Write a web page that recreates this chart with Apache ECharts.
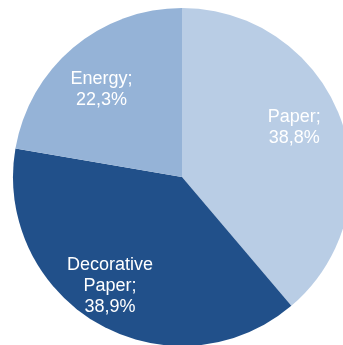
<!DOCTYPE html>
<html>
<head>
<meta charset="utf-8">
<style>html,body{margin:0;padding:0;background:#fff;}#c{width:343px;height:345px;}</style>
<script src="https://cdn.jsdelivr.net/npm/echarts@6/dist/echarts.min.js"></script>
</head>
<body>
<div id="c"></div>
<script>
const categories = ["Paper", "Decorative\nPaper", "Energy"];
const values = [38.8, 38.9, 22.3];
const colors = ["#B9CDE5", "#21508A", "#95B3D7"];

const data = categories.map((c, i) => ({ name: c, value: values[i], itemStyle: { color: colors[i] } }));
const fmt = p => p.name + ";\n" + p.value.toFixed(1).replace(".", ",") + "%";

const chart = echarts.init(document.getElementById("c"), null, { renderer: "canvas" });
chart.setOption({
  animation: false,
  series: [
    {
      type: "pie",
      center: [182, 177],
      radius: [0, 169],
      startAngle: 90,
      clockwise: true,
      silent: true,
      label: { show: false },
      labelLine: { show: false },
      itemStyle: { borderWidth: 0 },
      data: data
    },
    {
      type: "pie",
      center: [182, 177],
      radius: [0, 244],
      startAngle: 90,
      clockwise: true,
      silent: true,
      itemStyle: { color: "transparent", borderWidth: 0 },
      label: {
        show: true,
        position: "inside",
        formatter: fmt,
        color: "#ffffff",
        fontFamily: "Liberation Sans, Arial, sans-serif",
        fontSize: 18,
        lineHeight: 21,
        align: "center"
      },
      labelLayout: function (p) {
        const shift = [[-5, -6], [-10, 0], [0, 8]];
        return { dx: shift[p.dataIndex][0], dy: shift[p.dataIndex][1] };
      },
      labelLine: { show: false },
      data: categories.map((c, i) => ({ name: c, value: values[i] }))
    }
  ]
});
</script>
</body>
</html>
